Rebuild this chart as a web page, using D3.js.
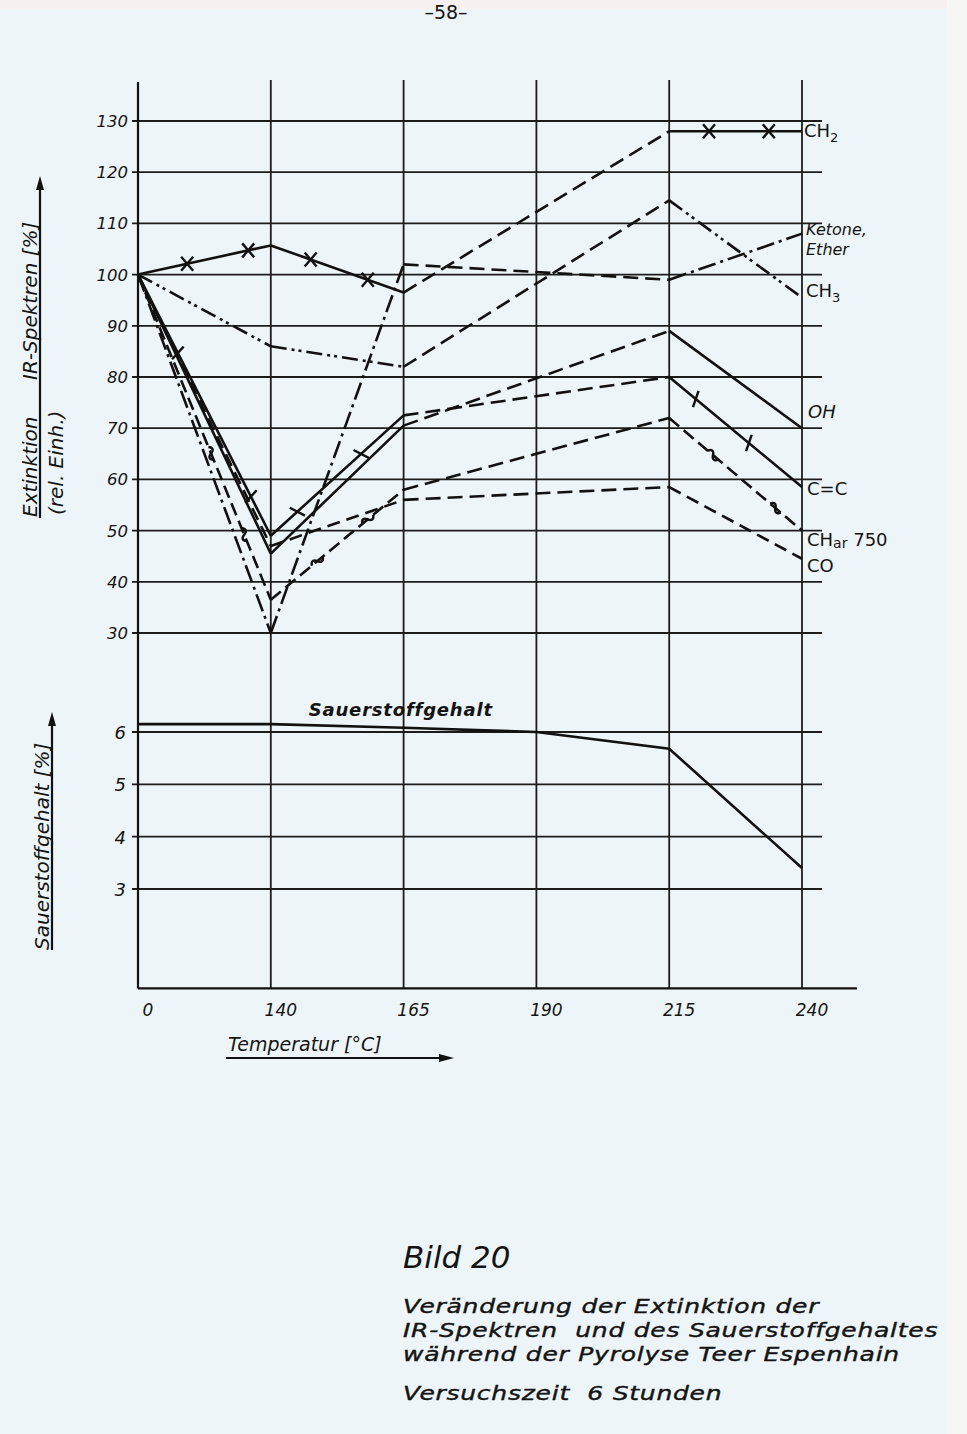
<!doctype html>
<html lang="de">
	<head>
		<meta charset="UTF-8" />
		<title>Bild 20</title>
		<script src="https://d3js.org/d3.v7.min.js"></script>
		<style>
			body {
				margin: 0;
			}
			svg {
				display: block;
				font-family: 'DejaVu Sans', sans-serif;
			}
			text {
				fill: #141414;
				white-space: pre;
			}
			.grid {
				stroke: #1c1c1c;
				stroke-width: 1.8px;
			}
			.axis {
				stroke: #111;
				stroke-width: 2.2px;
			}
			.series {
				fill: none;
				stroke: #111;
				stroke-width: 2.6px;
			}
			.mark {
				fill: none;
				stroke: #111;
				stroke-width: 2.4px;
			}
			.it {
				font-style: italic;
			}
		</style>
	</head>
	<body>
		<svg width="967" height="1434"></svg>
		<script>
			// Temperaturen (x), IR-Messpunkte ohne 190 °C
			const temps = ['0', '140', '165', '190', '215', '240']
			const irTemps = ['0', '140', '165', '215', '240']
			const irTicks = [130, 120, 110, 100, 90, 80, 70, 60, 50, 40, 30]
			const o2Ticks = [6, 5, 4, 3]

			// Extinktion [%]
			const ch2 = [100, 105.7, 96.5, 128, 128]
			const ch3 = [100, 86, 82, 114.5, 95.5]
			const ketone = [100, 30, 102, 99, 108]
			const oh = [100, 45.5, 70.5, 89, 70]
			const cc = [100, 49, 72.5, 80, 58.5]
			const char750 = [100, 36.5, 58, 72, 50]
			const co = [100, 47, 56, 58.5, 44.5]

			// Sauerstoffgehalt [%]
			const o2 = [6.15, 6.15, 6.08, 6.0, 5.68, 3.4]

			const series = [
				{ vals: ch2, dash: null, mark: 'x', fr: [[0.37, 0.83], [0.3, 0.73], null, [0.3, 0.75]] },
				{ vals: ch3, dash: '16,5,3,4,3,5' },
				{ vals: ketone, dash: '18,5,3,5' },
				{ vals: oh, dash: null },
				{ vals: cc, dash: null, mark: 'tick', fr: [[0.3, 0.85], [0.2, 0.68], null, [0.2, 0.6]] },
				{ vals: char750, dash: '13,6', mark: 'tilde', fr: [[0.55, 0.8], [0.35, 0.73], null, [0.33, 0.8]] },
				{ vals: co, dash: '13,7' }
			]

			const svg = d3.select('svg')

			svg.append('rect').attr('width', 967).attr('height', 1434).attr('fill', '#edf5f8')
			svg.append('rect').attr('width', 967).attr('height', 9).attr('fill', '#f6f0f0')

			const x = d3.scalePoint().domain(temps).range([138, 802])
			const yIr = d3.scaleLinear().domain([30, 130]).range([633, 121])
			const yO2 = d3.scaleLinear().domain([3, 6]).range([889, 732])
			const x0 = x('0')
			const yBottom = yO2(1.1)

			// Gitter
			const g = svg.append('g')
			g.selectAll('line.v')
				.data(temps.slice(1))
				.join('line')
				.attr('class', 'grid')
				.attr('x1', (d) => x(d))
				.attr('x2', (d) => x(d))
				.attr('y1', 80)
				.attr('y2', yBottom)
			g.selectAll('line.hi')
				.data(irTicks)
				.join('line')
				.attr('class', 'grid')
				.attr('x1', x0 - 6)
				.attr('x2', 822)
				.attr('y1', (d) => yIr(d))
				.attr('y2', (d) => yIr(d))
			g.append('g')
				.selectAll('line')
				.data(o2Ticks)
				.join('line')
				.attr('class', 'grid')
				.attr('x1', x0 - 6)
				.attr('x2', 822)
				.attr('y1', (d) => yO2(d))
				.attr('y2', (d) => yO2(d))

			svg.append('line').attr('class', 'axis')
				.attr('x1', x0).attr('x2', x0).attr('y1', 82).attr('y2', yBottom)
			svg.append('line').attr('class', 'axis')
				.attr('x1', x0).attr('x2', 857).attr('y1', yBottom).attr('y2', yBottom)

			// Achsenbeschriftung
			svg.append('g')
				.selectAll('text')
				.data(irTicks)
				.join('text')
				.attr('class', 'it')
				.attr('x', x0 - 10)
				.attr('y', (d) => yIr(d) + 6)
				.attr('text-anchor', 'end')
				.attr('font-size', 16.5)
				.text((d) => d)
			svg.append('g')
				.selectAll('text')
				.data(o2Ticks)
				.join('text')
				.attr('class', 'it')
				.attr('x', x0 - 12)
				.attr('y', (d) => yO2(d) + 7)
				.attr('text-anchor', 'end')
				.attr('font-size', 18)
				.text((d) => d)
			svg.append('g')
				.selectAll('text')
				.data(temps)
				.join('text')
				.attr('class', 'it')
				.attr('x', (d) => x(d) + 10)
				.attr('y', yBottom + 28)
				.attr('text-anchor', 'middle')
				.attr('font-size', 17)
				.text((d) => d)

			// Kurven
			const line = d3.line()
			const pt = (s, i) => [x(irTemps[i]), yIr(s.vals[i])]
			const segs = []
			const marks = []
			series.forEach((s) => {
				for (let i = 0; i < s.vals.length - 1; i++) {
					const a = pt(s, i)
					const b = pt(s, i + 1)
					const gap = irTemps[i] === '165'
					segs.push({ a, b, dash: gap ? '15,7' : s.dash })
					if (s.mark && s.fr[i]) {
						s.fr[i].forEach((f) => {
							marks.push({
								type: s.mark,
								x: a[0] + f * (b[0] - a[0]),
								y: a[1] + f * (b[1] - a[1]),
								ang: (Math.atan2(b[1] - a[1], b[0] - a[0]) * 180) / Math.PI
							})
						})
					}
				}
			})

			svg.append('g')
				.selectAll('path')
				.data(segs)
				.join('path')
				.attr('class', 'series')
				.attr('d', (d) => line([d.a, d.b]))
				.attr('stroke-dasharray', (d) => d.dash)

			const markPath = {
				x: 'M-6,-7L6,7M6,-7L-6,7',
				tick: 'M-3,-8L3,8',
				tilde: 'M-7,0C-5,-4 -2,-4 0,0S5,4 7,0'
			}
			svg.append('g')
				.selectAll('path')
				.data(marks)
				.join('path')
				.attr('class', 'mark')
				.attr('d', (d) => markPath[d.type])
				.attr('transform', (d) =>
					d.type === 'x' ? `translate(${d.x},${d.y})` : `translate(${d.x},${d.y}) rotate(${d.ang})`
				)

			svg.append('path')
				.datum(o2)
				.attr('class', 'series')
				.attr('d', d3.line().x((d, i) => x(temps[i])).y((d) => yO2(d)))

			// Kurvennamen
			const xe = x('240')
			const endY = (arr) => yIr(arr[arr.length - 1])
			const lab = svg.append('g').attr('font-size', 18)
			const ch2t = lab.append('text').attr('x', xe + 2).attr('y', endY(ch2) + 6)
			ch2t.append('tspan').text('CH')
			ch2t.append('tspan').attr('font-size', 13).attr('dy', 5).text('2')
			lab.append('text').attr('class', 'it').attr('font-size', 16)
				.attr('x', xe + 4).attr('y', endY(ketone) + 1).text('Ketone,')
			lab.append('text').attr('class', 'it').attr('font-size', 16)
				.attr('x', xe + 4).attr('y', endY(ketone) + 21).text('Ether')
			const ch3t = lab.append('text').attr('x', xe + 4).attr('y', endY(ch3) - 1)
			ch3t.append('tspan').text('CH')
			ch3t.append('tspan').attr('font-size', 13).attr('dy', 5).text('3')
			lab.append('text').attr('class', 'it').attr('x', xe + 6).attr('y', endY(oh) - 10).text('OH')
			lab.append('text').attr('x', xe + 5).attr('y', endY(cc) + 8).text('C=C')
			const chart = lab.append('text').attr('x', xe + 5).attr('y', endY(char750) + 15)
			chart.append('tspan').text('CH')
			chart.append('tspan').attr('font-size', 14).attr('dy', 2).text('ar')
			chart.append('tspan').attr('dy', -2).text(' 750')
			lab.append('text').attr('x', xe + 5).attr('y', endY(co) + 13).text('CO')

			svg.append('text')
				.attr('class', 'it')
				.attr('x', x('140') + 38)
				.attr('y', yO2(o2[1]) - 8)
				.attr('font-size', 18)
				.attr('font-weight', 'bold')
				.attr('letter-spacing', 0.8)
				.text('Sauerstoffgehalt')

			// Achsentitel
			const arrowUp = (ax, y1, y2) => {
				svg.append('line').attr('class', 'axis').attr('stroke-width', 2)
					.attr('x1', ax).attr('x2', ax).attr('y1', y1).attr('y2', y2 + 6)
				svg.append('path').attr('fill', '#111')
					.attr('d', `M${ax},${y2}l-4,14h8z`)
			}
			arrowUp(40, 518, 176)
			arrowUp(52, 950, 712)

			const rot = (tx, ty, txt, fs) =>
				svg.append('text')
					.attr('class', 'it')
					.attr('font-size', fs)
					.attr('transform', `translate(${tx},${ty}) rotate(-90)`)
					.text(txt)
			rot(37, 517, 'Extinktion', 20)
			rot(37, 380, 'IR-Spektren [%]', 20)
			rot(63, 515, '(rel. Einh.)', 20)
			rot(49, 950, 'Sauerstoffgehalt [%]', 20)

			svg.append('text')
				.attr('class', 'it')
				.attr('x', 228)
				.attr('y', 1051)
				.attr('font-size', 19)
				.text('Temperatur [°C]')
			svg.append('line').attr('class', 'axis').attr('stroke-width', 2)
				.attr('x1', 226).attr('x2', 442).attr('y1', 1058).attr('y2', 1058)
			svg.append('path').attr('fill', '#111').attr('d', 'M454,1058l-15,-4v8z')

			// Bildunterschrift
			const cap = svg.append('g').attr('class', 'it')
			cap.append('text').attr('x', 403).attr('y', 1268).attr('font-size', 31).text('Bild 20')
			const capLines = [
				['Veränderung der Extinktion der', 1313],
				['IR-Spektren  und des Sauerstoffgehaltes', 1337],
				['während der Pyrolyse Teer Espenhain', 1361],
				['Versuchszeit  6 Stunden', 1400]
			]
			cap.selectAll('text.c')
				.data(capLines)
				.join('text')
				.attr('transform', (d) => `translate(403,${d[1]}) scale(1.25,1)`)
				.attr('font-size', 20)
				.attr('letter-spacing', 0.6)
				.attr('stroke', '#141414')
				.attr('stroke-width', 0.4)
				.text((d) => d[0])

			svg.append('text')
				.attr('x', 446)
				.attr('y', 19)
				.attr('text-anchor', 'middle')
				.attr('font-size', 19)
				.text('–58–')

			svg.append('rect').attr('x', 947).attr('width', 20).attr('height', 1434).attr('fill', '#f6f6f4')
		</script>
	</body>
</html>
